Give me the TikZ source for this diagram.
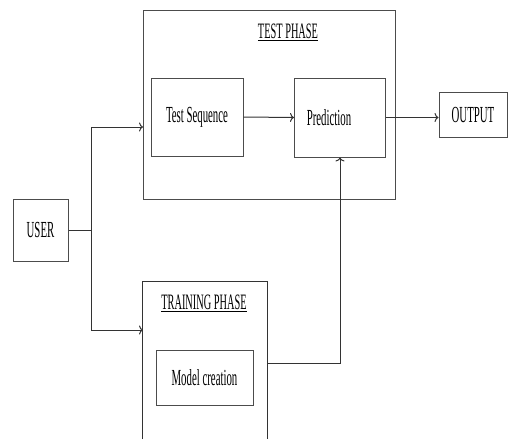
\documentclass[tikz,border=0pt]{standalone}
\usepackage{fontspec}
\setmainfont[FakeStretch=0.47]{Liberation Serif}
\usetikzlibrary{positioning,arrows.meta}

\tikzset{
    box/.style={draw=black!70, line width=1pt, minimum width=#1},
    phase/.style={font=\fontsize{22}{24}\selectfont},
    link/.style={draw=black!80, line width=1pt},
    >={To[length=4pt,width=9pt]},
}

\begin{document}
\begin{tikzpicture}[x=1pt, y=-1pt, font=\fontsize{23}{26}\selectfont]
    \useasboundingbox (0,0) rectangle (508,439);

    % Blocks
    \node[box=55pt, minimum height=62pt] (user) at (40.5,230) {USER};
    \node[box=252pt, minimum height=189pt] (testphase) at (269,104.5) {};
    \node[phase] (testlabel) at (288,32) {\underline{TEST PHASE}};
    \node[box=92pt, minimum height=78pt] (testseq) at (197,117) {Test Sequence};
    \node[box=91pt, minimum height=79pt, align=left] (pred) at (340,117.5) {Prediction\hspace{22pt}};
    \node[box=68pt, minimum height=45pt] (output) at (473,114.5) {OUTPUT\hspace{6pt}};

    % Training phase (open at the bottom)
    \node[minimum width=124pt, minimum height=157pt, inner sep=0pt] (training) at (205,360.5) {};
    \draw[link] (training.south west) |- (training.north east) -- (training.south east);
    \node[phase] (trainlabel) at (204,303) {\underline{TRAINING PHASE}};
    \node[box=97pt, minimum height=55pt] (model) at (204.5,377.5) {Model creation};

    % Connectors
    \coordinate (split) at (91,230);
    \coordinate (testin) at (143,127);
    \coordinate (trainin) at (143,330);
    \coordinate (trainout) at (267,363);
    \draw[link] (user.east) -- (split);
    \draw[link, ->] (split) |- (testin);
    \draw[link, ->] (split) |- (trainin);
    \draw[link, ->] (testseq.east) -- (pred.west);
    \draw[link, ->] (pred.east) -- (pred.east -| output.west);
    \draw[link, ->] (trainout) -| (pred.south);
\end{tikzpicture}
\end{document}
